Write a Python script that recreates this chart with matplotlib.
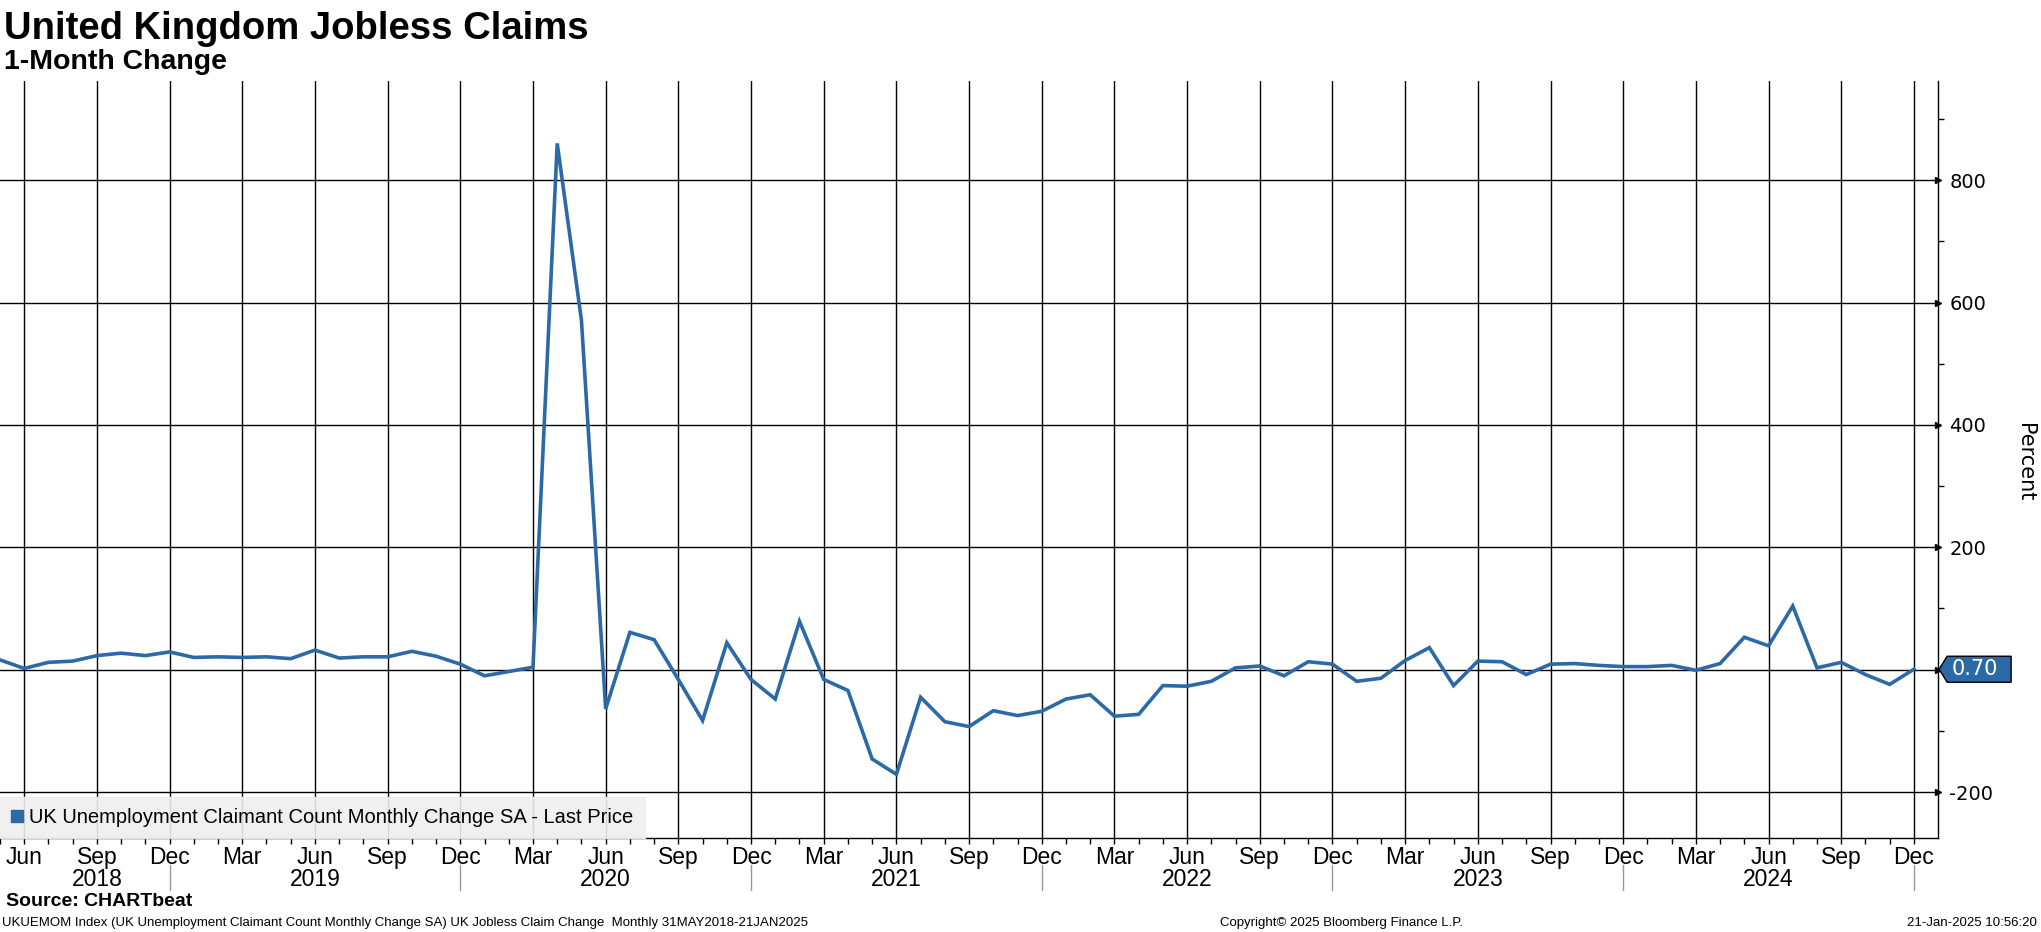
import matplotlib
matplotlib.use("Agg")
import matplotlib.pyplot as plt
import matplotlib.transforms as mtransforms
from matplotlib import font_manager
from matplotlib.lines import Line2D
from matplotlib.patches import Polygon
import numpy as np
import pandas as pd

# --- data (UKUEMOM Index, thousands, monthly from May 2018) ---
START_MONTH = "2018-05"
claims_change = [
    16, 2, 12, 14, 23, 27, 23, 29,                          # 2018 May-Dec
    20, 21, 20, 21, 18, 32, 19, 21, 21, 30, 22, 9,          # 2019
    -10, -3, 4, 860, 571, -64, 61, 49, -16, -83, 44, -16,   # 2020
    -48, 79, -16, -34, -146, -171, -45, -85, -93, -67, -75, -68,  # 2021
    -48, -41, -76, -73, -26, -27, -19, 3, 6, -10, 13, 9,    # 2022
    -19, -14, 15, 36, -26, 14, 13, -8, 9, 10, 7, 5,         # 2023
    5, 7, -1, 10, 53, 39, 104, 3, 12, -8, -24, 0.70,        # 2024
]
y_ticks = [-200, 0, 200, 400, 600, 800]
tick_months = ["Jun", "Sep", "Dec", "Mar"]

TITLE = "United Kingdom Jobless Claims"
SUBTITLE = "1-Month Change"
SERIES_NAME = "UK Unemployment Claimant Count Monthly Change SA - Last Price"
SOURCE = "Source: CHARTbeat"
FOOTER_LEFT = ("UKUEMOM Index (UK Unemployment Claimant Count Monthly Change SA) "
               "UK Jobless Claim Change  Monthly 31MAY2018-21JAN2025")
FOOTER_MID = "Copyright\u00a9 2025 Bloomberg Finance L.P."
FOOTER_RIGHT = "21-Jan-2025 10:56:20"

LINE_BLUE = "#2b6aa6"

names = {f.name for f in font_manager.fontManager.ttflist}
NARROW = "Liberation Sans Narrow" if "Liberation Sans Narrow" in names else "Liberation Sans"

months = pd.period_range(START_MONTH, periods=len(claims_change), freq="M")
x = np.arange(len(months))

fig = plt.figure(figsize=(20.41, 9.32), dpi=100)
ax = fig.add_axes([0.0, 0.1009, 0.9496, 0.8122])

ax.plot(x, claims_change, color=LINE_BLUE, lw=2.6, zorder=3, solid_joinstyle="miter")

ax.set_xlim(0, len(months))
ax.set_ylim(-275, 962)

# x axis: quarterly labelled ticks + monthly minor ticks
major_idx = [i for i, m in enumerate(months) if m.strftime("%b") in tick_months]
ax.set_xticks(major_idx)
ax.set_xticklabels([months[i].strftime("%b") for i in major_idx],
                   fontsize=16.5, family=NARROW)
ax.set_xticks(x, minor=True)
ax.tick_params(axis="x", which="both", direction="out", length=4, width=1,
               color="black", pad=2)

# y axis on the right (the 0 label sits under the last-value tag)
ax.yaxis.tick_right()
ax.set_yticks(y_ticks)
ax.set_yticklabels(["" if v == 0 else str(v) for v in y_ticks], fontsize=14)
ax.set_yticks(np.arange(-100, 1000, 200), minor=True)
ax.tick_params(axis="y", which="major", length=0, pad=8)
ax.tick_params(axis="y", which="minor", direction="out", length=4, width=1)

ax.grid(True, which="major", color="black", lw=1.0)
ax.set_axisbelow(True)
for side in ["left", "top"]:
    ax.spines[side].set_visible(False)
for side in ["right", "bottom"]:
    ax.spines[side].set_color("black")
    ax.spines[side].set_linewidth(1.0)

# little arrow heads at the labelled y ticks
ty = mtransforms.blended_transform_factory(ax.transAxes, ax.transData)
ax.plot([1.0] * len(y_ticks), y_ticks, ls="none", marker=">", ms=5,
        color="black", transform=ty, clip_on=False, zorder=5)

# year labels with separators at December
tx = mtransforms.blended_transform_factory(ax.transData, ax.transAxes)
dec_idx = [i for i, m in enumerate(months) if m.month == 12]
prev = major_idx[0]
for d in dec_idx:
    ax.plot([d, d], [-0.0357, -0.0687], color="#9a9a9a", lw=1,
            transform=tx, clip_on=False)
    ax.text((prev + d) / 2, -0.055, str(months[d].year), transform=tx,
            ha="center", va="center", fontsize=16.5, family=NARROW)
    prev = d

# legend
handle = Line2D([], [], ls="none", marker="s", ms=9, color=LINE_BLUE)
leg = ax.legend([handle], [SERIES_NAME], loc="lower left", bbox_to_anchor=(0, 0),
                borderaxespad=0, frameon=True, fancybox=False,
                facecolor="#efefef", edgecolor="#efefef", framealpha=0.9,
                prop={"family": NARROW, "size": 14.5}, handlelength=0.6,
                handletextpad=0.3, borderpad=0.55)
leg.set_zorder(6)

# last value tag
fig.canvas.draw()
px, py = ty.transform((1.0, claims_change[-1]))
tag = Polygon([(px + 1, py), (px + 9, py + 13), (px + 73, py + 13),
               (px + 73, py - 13), (px + 9, py - 13)], closed=True,
              facecolor=LINE_BLUE, edgecolor="black", lw=1,
              transform=mtransforms.IdentityTransform())
fig.add_artist(tag)
fig.text(px + 37, py, f"{claims_change[-1]:.2f}", color="white", fontsize=15,
         ha="center", va="center", transform=mtransforms.IdentityTransform())

fig.text(2025 / 2041, 1 - 462 / 932, "Percent", rotation=270, ha="center",
         va="center", fontsize=15)

# titles and footer
fig.text(0.002, 1 - 39 / 932, TITLE, fontsize=27.5, fontweight="bold",
         family=NARROW, va="baseline")
fig.text(0.002, 1 - 69 / 932, SUBTITLE, fontsize=20.5, fontweight="bold",
         family=NARROW, va="baseline")
fig.text(0.003, 1 - 901 / 932, SOURCE, fontsize=14, fontweight="bold",
         family=NARROW, va="center")
fig.text(0.001, 1 - 923 / 932, FOOTER_LEFT, fontsize=9.5, family=NARROW,
         va="center")
fig.text(1341 / 2041, 1 - 923 / 932, FOOTER_MID, fontsize=9.5, family=NARROW,
         va="center", ha="center")
fig.text(0.998, 1 - 923 / 932, FOOTER_RIGHT, fontsize=9.5, family=NARROW,
         va="center", ha="right")

fig.savefig("out.png", dpi=100)
